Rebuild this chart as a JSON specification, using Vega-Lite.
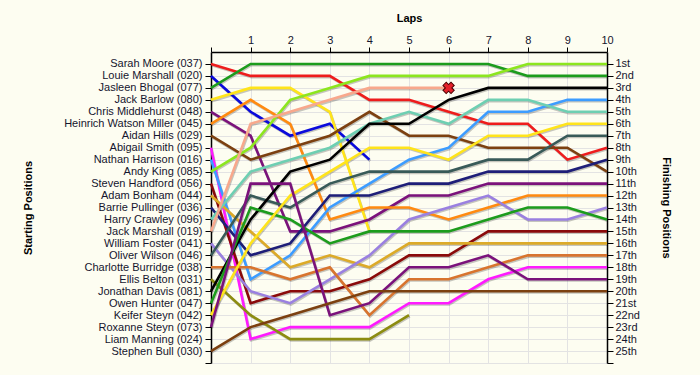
{
"$schema":"https://vega.github.io/schema/vega-lite/v6.json",
"width":396,"height":311,
"autosize":"none",
"padding":{"left":211,"top":52,"right":93,"bottom":12},
"background":"#fdfdf1",
"config":{"view":{"stroke":null},"axis":{"labelFont":"Liberation Sans","titleFont":"Liberation Sans","labelFontSize":11,"titleFontSize":11,"titleFontWeight":"bold","labelColor":"#15152e","titleColor":"#000","domainColor":"#000","domainWidth":1.5,"tickColor":"#000","gridColor":"#e3e3e3","gridWidth":1,"labelOverlap":false,"labelFlush":false}},
"data":{"values":[
{"c":"037","l":0,"p":1},{"c":"037","l":1,"p":2},{"c":"037","l":2,"p":2},{"c":"037","l":3,"p":2},{"c":"037","l":4,"p":4},{"c":"037","l":5,"p":4},{"c":"037","l":6,"p":5},{"c":"037","l":7,"p":6},{"c":"037","l":8,"p":6},{"c":"037","l":9,"p":9},{"c":"037","l":10,"p":8},
{"c":"020","l":0,"p":2},{"c":"020","l":1,"p":5},{"c":"020","l":2,"p":7},{"c":"020","l":3,"p":6},{"c":"020","l":4,"p":9},
{"c":"077","l":0,"p":3},{"c":"077","l":1,"p":1},{"c":"077","l":2,"p":1},{"c":"077","l":3,"p":1},{"c":"077","l":4,"p":1},{"c":"077","l":5,"p":1},{"c":"077","l":6,"p":1},{"c":"077","l":7,"p":1},{"c":"077","l":8,"p":2},{"c":"077","l":9,"p":2},{"c":"077","l":10,"p":2},
{"c":"080","l":0,"p":4},{"c":"080","l":1,"p":3},{"c":"080","l":2,"p":3},{"c":"080","l":3,"p":5},{"c":"080","l":4,"p":15},
{"c":"048","l":0,"p":5},{"c":"048","l":1,"p":7},{"c":"048","l":2,"p":15},{"c":"048","l":3,"p":15},{"c":"048","l":4,"p":14},{"c":"048","l":5,"p":12},{"c":"048","l":6,"p":12},{"c":"048","l":7,"p":11},{"c":"048","l":8,"p":11},{"c":"048","l":9,"p":11},{"c":"048","l":10,"p":11},
{"c":"045","l":0,"p":6},{"c":"045","l":1,"p":4},{"c":"045","l":2,"p":6},{"c":"045","l":3,"p":14},{"c":"045","l":4,"p":13},{"c":"045","l":5,"p":13},{"c":"045","l":6,"p":14},{"c":"045","l":7,"p":13},{"c":"045","l":8,"p":12},{"c":"045","l":9,"p":12},{"c":"045","l":10,"p":12},
{"c":"029","l":0,"p":7},{"c":"029","l":1,"p":9},{"c":"029","l":2,"p":8},{"c":"029","l":3,"p":7},{"c":"029","l":4,"p":5},{"c":"029","l":5,"p":7},{"c":"029","l":6,"p":7},{"c":"029","l":7,"p":8},{"c":"029","l":8,"p":8},{"c":"029","l":9,"p":8},{"c":"029","l":10,"p":10},
{"c":"095","l":0,"p":8},{"c":"095","l":1,"p":24},{"c":"095","l":2,"p":23},{"c":"095","l":3,"p":23},{"c":"095","l":4,"p":23},{"c":"095","l":5,"p":21},{"c":"095","l":6,"p":21},{"c":"095","l":7,"p":19},{"c":"095","l":8,"p":18},{"c":"095","l":9,"p":18},{"c":"095","l":10,"p":18},
{"c":"016","l":0,"p":9},{"c":"016","l":1,"p":19},{"c":"016","l":2,"p":17},{"c":"016","l":3,"p":13},{"c":"016","l":4,"p":11},{"c":"016","l":5,"p":9},{"c":"016","l":6,"p":8},{"c":"016","l":7,"p":5},{"c":"016","l":8,"p":5},{"c":"016","l":9,"p":4},{"c":"016","l":10,"p":4},
{"c":"085","l":0,"p":10},{"c":"085","l":1,"p":8},{"c":"085","l":2,"p":4},{"c":"085","l":3,"p":3},{"c":"085","l":4,"p":2},{"c":"085","l":5,"p":2},{"c":"085","l":6,"p":2},{"c":"085","l":7,"p":2},{"c":"085","l":8,"p":1},{"c":"085","l":9,"p":1},{"c":"085","l":10,"p":1},
{"c":"056","l":0,"p":11},{"c":"056","l":1,"p":21},{"c":"056","l":2,"p":20},{"c":"056","l":3,"p":20},{"c":"056","l":4,"p":19},{"c":"056","l":5,"p":17},{"c":"056","l":6,"p":17},{"c":"056","l":7,"p":15},{"c":"056","l":8,"p":15},{"c":"056","l":9,"p":15},{"c":"056","l":10,"p":15},
{"c":"044","l":0,"p":12},{"c":"044","l":1,"p":15},{"c":"044","l":2,"p":18},{"c":"044","l":3,"p":17},{"c":"044","l":4,"p":18},{"c":"044","l":5,"p":16},{"c":"044","l":6,"p":16},{"c":"044","l":7,"p":16},{"c":"044","l":8,"p":16},{"c":"044","l":9,"p":16},{"c":"044","l":10,"p":16},
{"c":"036","l":0,"p":13},{"c":"036","l":1,"p":17},{"c":"036","l":2,"p":16},{"c":"036","l":3,"p":12},{"c":"036","l":4,"p":12},{"c":"036","l":5,"p":11},{"c":"036","l":6,"p":11},{"c":"036","l":7,"p":10},{"c":"036","l":8,"p":10},{"c":"036","l":9,"p":10},{"c":"036","l":10,"p":9},
{"c":"096","l":0,"p":14},{"c":"096","l":1,"p":10},{"c":"096","l":2,"p":9},{"c":"096","l":3,"p":8},{"c":"096","l":4,"p":6},{"c":"096","l":5,"p":5},{"c":"096","l":6,"p":6},{"c":"096","l":7,"p":4},{"c":"096","l":8,"p":4},{"c":"096","l":9,"p":5},{"c":"096","l":10,"p":5},
{"c":"019","l":0,"p":15},{"c":"019","l":1,"p":6},{"c":"019","l":2,"p":5},{"c":"019","l":3,"p":4},{"c":"019","l":4,"p":3},{"c":"019","l":5,"p":3},{"c":"019","l":6,"p":3},
{"c":"041","l":0,"p":16},{"c":"041","l":1,"p":20},{"c":"041","l":2,"p":21},{"c":"041","l":3,"p":19},{"c":"041","l":4,"p":17},{"c":"041","l":5,"p":14},{"c":"041","l":6,"p":13},{"c":"041","l":7,"p":12},{"c":"041","l":8,"p":14},{"c":"041","l":9,"p":14},{"c":"041","l":10,"p":13},
{"c":"046","l":0,"p":17},{"c":"046","l":1,"p":12},{"c":"046","l":2,"p":13},{"c":"046","l":3,"p":11},{"c":"046","l":4,"p":10},{"c":"046","l":5,"p":10},{"c":"046","l":6,"p":10},{"c":"046","l":7,"p":9},{"c":"046","l":8,"p":9},{"c":"046","l":9,"p":7},{"c":"046","l":10,"p":7},
{"c":"038","l":0,"p":18},{"c":"038","l":1,"p":18},{"c":"038","l":2,"p":19},{"c":"038","l":3,"p":18},{"c":"038","l":4,"p":22},{"c":"038","l":5,"p":19},{"c":"038","l":6,"p":19},{"c":"038","l":7,"p":18},{"c":"038","l":8,"p":17},{"c":"038","l":9,"p":17},{"c":"038","l":10,"p":17},
{"c":"031","l":0,"p":19},{"c":"031","l":1,"p":22},{"c":"031","l":2,"p":24},{"c":"031","l":3,"p":24},{"c":"031","l":4,"p":24},{"c":"031","l":5,"p":22},
{"c":"081","l":0,"p":20},{"c":"081","l":1,"p":14},{"c":"081","l":2,"p":10},{"c":"081","l":3,"p":9},{"c":"081","l":4,"p":6},{"c":"081","l":5,"p":6},{"c":"081","l":6,"p":4},{"c":"081","l":7,"p":3},{"c":"081","l":8,"p":3},{"c":"081","l":9,"p":3},{"c":"081","l":10,"p":3},
{"c":"047","l":0,"p":21},{"c":"047","l":1,"p":13},{"c":"047","l":2,"p":14},{"c":"047","l":3,"p":16},{"c":"047","l":4,"p":15},{"c":"047","l":5,"p":15},{"c":"047","l":6,"p":15},{"c":"047","l":7,"p":14},{"c":"047","l":8,"p":13},{"c":"047","l":9,"p":13},{"c":"047","l":10,"p":14},
{"c":"042","l":0,"p":22},{"c":"042","l":1,"p":16},{"c":"042","l":2,"p":12},{"c":"042","l":3,"p":10},{"c":"042","l":4,"p":8},{"c":"042","l":5,"p":8},{"c":"042","l":6,"p":9},{"c":"042","l":7,"p":7},{"c":"042","l":8,"p":7},{"c":"042","l":9,"p":6},{"c":"042","l":10,"p":6},
{"c":"073","l":0,"p":23},{"c":"073","l":1,"p":11},{"c":"073","l":2,"p":11},{"c":"073","l":3,"p":22},{"c":"073","l":4,"p":21},{"c":"073","l":5,"p":18},{"c":"073","l":6,"p":18},{"c":"073","l":7,"p":17},{"c":"073","l":8,"p":19},{"c":"073","l":9,"p":19},{"c":"073","l":10,"p":19},
{"c":"030","l":0,"p":25},{"c":"030","l":1,"p":23},{"c":"030","l":2,"p":22},{"c":"030","l":3,"p":21},{"c":"030","l":4,"p":20},{"c":"030","l":5,"p":20},{"c":"030","l":6,"p":20},{"c":"030","l":7,"p":20},{"c":"030","l":8,"p":20},{"c":"030","l":9,"p":20},{"c":"030","l":10,"p":20}
]},
"encoding":{
"x":{"field":"l","type":"quantitative","scale":{"domain":[0,10],"nice":false,"zero":false},
"axis":{"orient":"top","values":[0,1,2,3,4,5,6,7,8,9,10],"labelExpr":"datum.value==0?'':datum.label","title":"Laps","titleX":198,"titleY":-34,"titleBaseline":"middle","tickSize":5,"labelPadding":2,"grid":true}}
},
"layer":[
{"mark":{"type":"line","strokeWidth":2.6,"color":"#000","opacity":0.22,"xOffset":0.8,"yOffset":1.3},
"encoding":{"detail":{"field":"c"},
"y":{"field":"p","type":"quantitative","scale":{"domain":[0,26],"reverse":true,"nice":false,"zero":false},
"axis":{"orient":"left","values":[1,2,3,4,5,6,7,8,9,10,11,12,13,14,15,16,17,18,19,20,21,22,23,24,25,26],"labelExpr":"['','Sarah Moore (037)','Louie Marshall (020)','Jasleen Bhogal (077)','Jack Barlow (080)','Chris Middlehurst (048)','Heinrich Watson Miller (045)','Aidan Hills (029)','Abigail Smith (095)','Nathan Harrison (016)','Andy King (085)','Steven Handford (056)','Adam Bonham (044)','Barrie Pullinger (036)','Harry Crawley (096)','Jack Marshall (019)','William Foster (041)','Oliver Wilson (046)','Charlotte Burridge (038)','Ellis Belton (031)','Jonathan Davis (081)','Owen Hunter (047)','Keifer Steyn (042)','Roxanne Steyn (073)','Liam Manning (024)','Stephen Bull (030)',''][datum.value]","title":"Starting Positions","titleX":-183,"titleY":155.5,"titleBaseline":"middle","tickSize":6,"labelPadding":3,"grid":true}}}},
{"mark":{"type":"line","strokeWidth":2.6},
"encoding":{"color":{"field":"c","type":"nominal","legend":null,
"scale":{"domain":["037","020","077","080","048","045","029","095","016","085","056","044","036","096","019","041","046","038","031","081","047","042","073","030"],
"range":["#ee1c1c","#0a0adc","#1c9c1c","#ffe41a","#7b127b","#ff8a10","#7c4010","#ff1aff","#3c9cff","#8ce61e","#8a0a0a","#dcaa28","#1e1e78","#6ecfb2","#f8a88c","#9a80e0","#385a58","#d8742e","#8c8c10","#000000","#1c9c1c","#ffe41a","#7b127b","#7c4010"]}},
"y":{"field":"p","type":"quantitative","scale":{"domain":[0,26],"reverse":true,"nice":false,"zero":false},
"axis":{"orient":"right","values":[1,2,3,4,5,6,7,8,9,10,11,12,13,14,15,16,17,18,19,20,21,22,23,24,25,26],"labelExpr":"datum.value>25?'':datum.value+((datum.value%10==1&&datum.value!=11)?'st':(datum.value%10==2&&datum.value!=12)?'nd':(datum.value%10==3&&datum.value!=13)?'rd':'th')","title":"Finishing Positions","titleAngle":90,"titleX":58,"titleY":155.5,"titleBaseline":"middle","tickSize":6,"labelPadding":2,"grid":false}}}},
{"data":{"values":[{"c":"019","l":6,"p":3}]},
"mark":{"type":"point","shape":"cross","angle":45,"size":130,"filled":true,"fill":"#e4202a","stroke":"#4a0000","strokeWidth":1,"opacity":1},
"encoding":{"y":{"field":"p","type":"quantitative","axis":null}}}
],
"resolve":{"axis":{"y":"independent"}}
}
